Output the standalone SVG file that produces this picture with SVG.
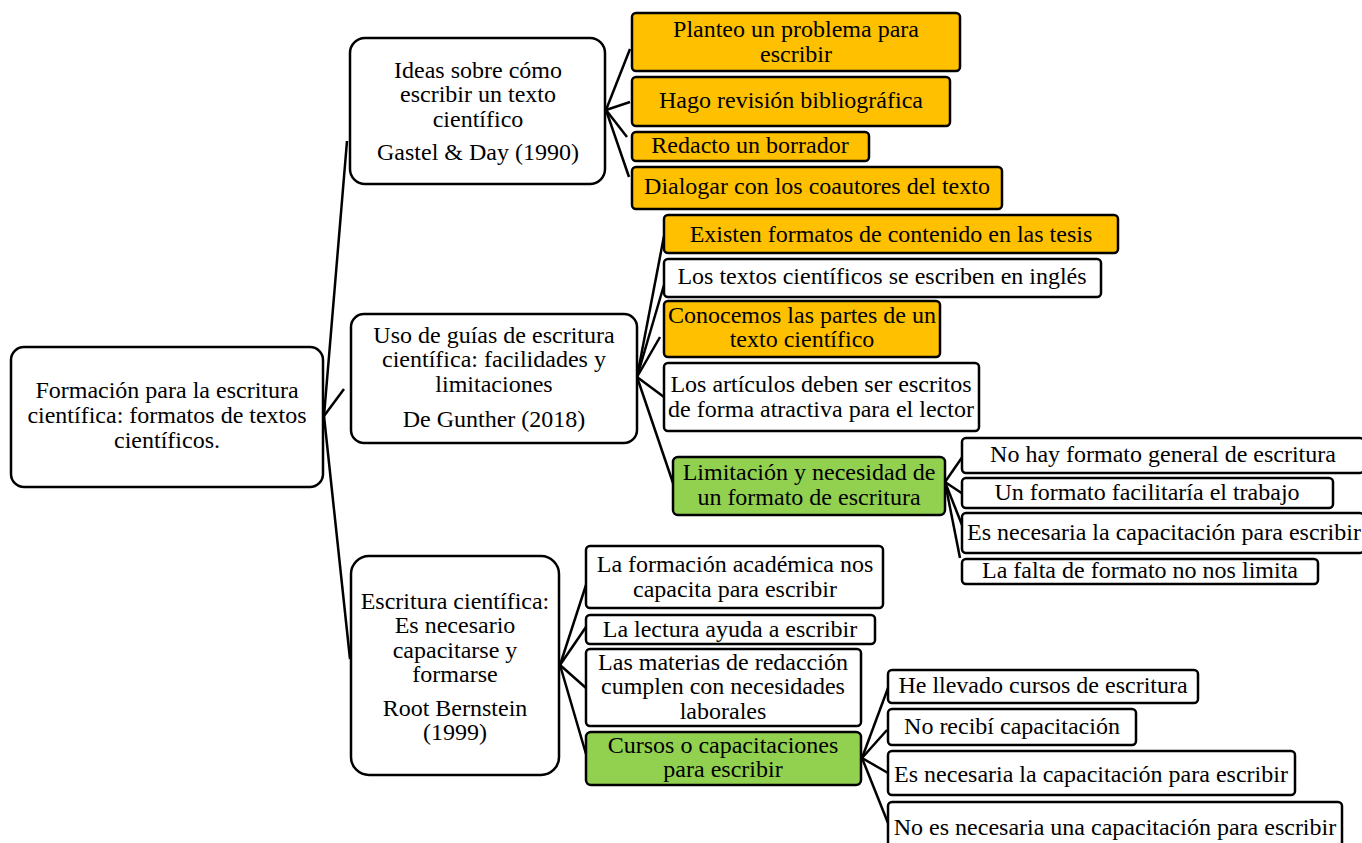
<svg xmlns="http://www.w3.org/2000/svg" width="1362" height="843" viewBox="0 0 1362 843">
<style>
.b{fill:#fff;stroke:#000;stroke-width:2.5}
.o{fill:#FFC000;stroke:#000;stroke-width:2.5}
.g{fill:#92D050;stroke:#000;stroke-width:2.5}
text{font-family:"Liberation Serif","Times New Roman",serif;font-size:24px;fill:#000;text-anchor:middle}
.c line{stroke:#000;stroke-width:2.5}
</style>
<rect width="1362" height="843" fill="#fff"/>
<g class="c">
<line x1="324" y1="416" x2="347" y2="141"/>
<line x1="324" y1="416" x2="344" y2="389"/>
<line x1="324" y1="416" x2="350" y2="659"/>
<line x1="606" y1="110" x2="630" y2="49"/>
<line x1="606" y1="110" x2="630" y2="102"/>
<line x1="606" y1="110" x2="627" y2="137"/>
<line x1="606" y1="110" x2="629" y2="177"/>
<line x1="637" y1="377" x2="664" y2="236"/>
<line x1="637" y1="377" x2="664" y2="285"/>
<line x1="637" y1="377" x2="660" y2="337"/>
<line x1="637" y1="377" x2="664" y2="397"/>
<line x1="637" y1="377" x2="673" y2="483"/>
<line x1="945" y1="482" x2="963" y2="456"/>
<line x1="945" y1="482" x2="963" y2="494"/>
<line x1="945" y1="482" x2="962" y2="525"/>
<line x1="945" y1="482" x2="960" y2="558"/>
<line x1="560" y1="665" x2="586" y2="585"/>
<line x1="560" y1="665" x2="586" y2="627"/>
<line x1="560" y1="665" x2="586" y2="688"/>
<line x1="560" y1="665" x2="586" y2="754"/>
<line x1="862" y1="758" x2="888" y2="688"/>
<line x1="862" y1="758" x2="887" y2="730"/>
<line x1="862" y1="758" x2="888" y2="773"/>
<line x1="862" y1="758" x2="888" y2="823"/>
</g>
<g id="root"><rect class="b" x="11" y="347" width="312" height="140" rx="13"/>
<text x="167" y="398">Formación para la escritura</text><text x="167" y="423">científica: formatos de textos</text><text x="167" y="448">científicos.</text></g>
<g id="n1"><rect class="b" x="350" y="38" width="255" height="146" rx="15"/>
<text x="478" y="78">Ideas sobre cómo</text><text x="478" y="102">escribir un texto</text><text x="478" y="127">científico</text><text x="478" y="160">Gastel &amp; Day (1990)</text></g>
<g id="n1a"><rect class="o" x="632" y="13" width="328" height="58" rx="4"/>
<text x="796" y="37">Planteo un problema para</text><text x="796" y="62">escribir</text></g>
<g id="n1b"><rect class="o" x="632" y="77" width="318" height="49" rx="4"/>
<text x="791" y="108">Hago revisión bibliográfica</text></g>
<g id="n1c"><rect class="o" x="632" y="132" width="237" height="29" rx="4"/>
<text x="750" y="153">Redacto un borrador</text></g>
<g id="n1d"><rect class="o" x="632" y="167" width="370" height="42" rx="4"/>
<text x="817" y="194">Dialogar con los coautores del texto</text></g>
<g id="n2"><rect class="b" x="351" y="314" width="286" height="129" rx="13"/>
<text x="494" y="343">Uso de guías de escritura</text><text x="494" y="367">científica: facilidades y</text><text x="494" y="392">limitaciones</text><text x="494" y="427">De Gunther (2018)</text></g>
<g id="n2a"><rect class="o" x="664" y="215" width="454" height="38" rx="4"/>
<text x="891" y="242">Existen formatos de contenido en las tesis</text></g>
<g id="n2b"><rect class="b" x="664" y="259" width="437" height="38" rx="4"/>
<text x="882" y="284">Los textos científicos se escriben en inglés</text></g>
<g id="n2c"><rect class="o" x="664" y="301" width="276" height="56" rx="4"/>
<text x="802" y="323">Conocemos las partes de un</text><text x="802" y="347">texto científico</text></g>
<g id="n2d"><rect class="b" x="664" y="363" width="315" height="68" rx="4"/>
<text x="821" y="392">Los artículos deben ser escritos</text><text x="821" y="417">de forma atractiva para el lector</text></g>
<g id="n2e"><rect class="g" x="673" y="457" width="272" height="58" rx="5"/>
<text x="809" y="480">Limitación y necesidad de</text><text x="809" y="505">un formato de escritura</text></g>
<g id="n2e1"><rect class="b" x="962" y="438" width="402" height="35" rx="4"/>
<text x="1163" y="462">No hay formato general de escritura</text></g>
<g id="n2e2"><rect class="b" x="962" y="478" width="371" height="30" rx="4"/>
<text x="1147" y="500">Un formato facilitaría el trabajo</text></g>
<g id="n2e3"><rect class="b" x="962" y="513" width="402" height="40" rx="4"/>
<text x="1164" y="540">Es necesaria la capacitación para escribir</text></g>
<g id="n2e4"><rect class="b" x="962" y="559" width="356" height="25" rx="4"/>
<text x="1140" y="578">La falta de formato no nos limita</text></g>
<g id="n3"><rect class="b" x="351" y="556" width="208" height="219" rx="18"/>
<text x="455" y="609">Escritura científica:</text><text x="455" y="633">Es necesario</text><text x="455" y="658">capacitarse y</text><text x="455" y="682">formarse</text><text x="455" y="716">Root Bernstein</text><text x="455" y="740">(1999)</text></g>
<g id="n3a"><rect class="b" x="586" y="546" width="297" height="62" rx="4"/>
<text x="735" y="572">La formación académica nos</text><text x="735" y="597">capacita para escribir</text></g>
<g id="n3b"><rect class="b" x="586" y="615" width="289" height="29" rx="4"/>
<text x="730" y="637">La lectura ayuda a escribir</text></g>
<g id="n3c"><rect class="b" x="586" y="649" width="275" height="77" rx="4"/>
<text x="723" y="670">Las materias de redacción</text><text x="723" y="694">cumplen con necesidades</text><text x="723" y="719">laborales</text></g>
<g id="n3d"><rect class="g" x="586" y="732" width="275" height="53" rx="5"/>
<text x="723" y="753">Cursos o capacitaciones</text><text x="723" y="777">para escribir</text></g>
<g id="n3d1"><rect class="b" x="888" y="670" width="310" height="33" rx="4"/>
<text x="1043" y="693">He llevado cursos de escritura</text></g>
<g id="n3d2"><rect class="b" x="888" y="709" width="248" height="36" rx="4"/>
<text x="1012" y="734">No recibí capacitación</text></g>
<g id="n3d3"><rect class="b" x="888" y="751" width="407" height="44" rx="4"/>
<text x="1091" y="782">Es necesaria la capacitación para escribir</text></g>
<g id="n3d4"><rect class="b" x="888" y="802" width="454" height="50" rx="4"/>
<text x="1115" y="835">No es necesaria una capacitación para escribir</text></g>
</svg>
